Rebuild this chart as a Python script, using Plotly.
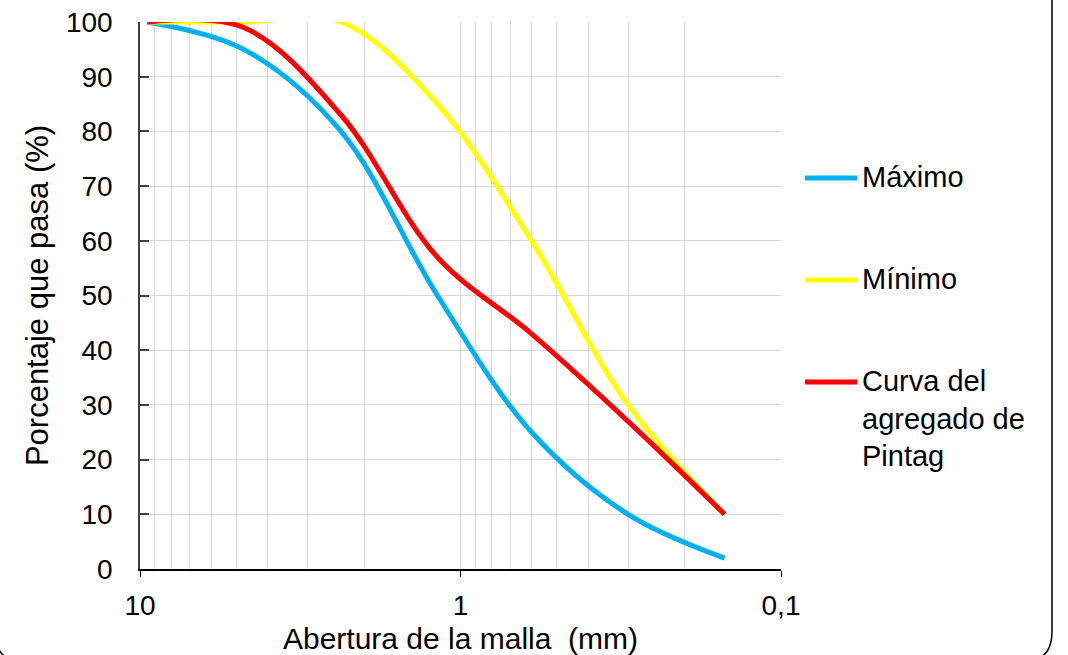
import plotly.graph_objects as go

# Sieve openings (mm) and cumulative percent passing
aberturas = [9.5, 4.75, 2.36, 1.18, 0.6, 0.3, 0.15]
maximo = [100, 95, 80, 50, 25, 10, 2]
minimo = [100, 100, 100, 85, 60, 30, 10]
pintag = [100, 99, 83, 57, 43, 27, 10]

series_names = ["Máximo", "Mínimo", "Curva del<br>agregado de<br>Pintag"]
series_values = [maximo, minimo, pintag]
series_colors = ["#00B0F0", "#FFFF00", "#FF0000"]

x_tick_vals = [10, 1, 0.1]
x_tick_text = ["10", "1", "0,1"]
x_minor_vals = [m * d for d in (0.1, 1) for m in range(2, 10)]

FONT = "Liberation Sans, Arial, sans-serif"
W, H = 1068, 655
L, R, T, B = 140, 287, 22, 86
PW, PH = W - L - R, H - T - B


def px(x):
    return (x - L) / PW


def py(y):
    return (H - B - y) / PH


fig = go.Figure()
for name, vals, col in zip(series_names, series_values, series_colors):
    fig.add_trace(go.Scatter(
        x=aberturas, y=vals, mode="lines", name=name.replace("<br>", " "),
        line=dict(color=col, width=5, shape="spline", smoothing=1.0),
        showlegend=False,
    ))

# Legend drawn beside the plot: a short line sample plus its label
legend_rows = [178, 280, 382]
for (name, col, yrow) in zip(series_names, series_colors, legend_rows):
    fig.add_shape(type="line", xref="paper", yref="paper",
                  x0=px(805), x1=px(857), y0=py(yrow), y1=py(yrow),
                  line=dict(color=col, width=5))
    fig.add_annotation(xref="paper", yref="paper", x=px(860), y=py(yrow - 19),
                       xanchor="left", yanchor="top", showarrow=False, align="left",
                       text=name, font=dict(family=FONT, size=29, color="black"))

# Rounded outer frame
r = 30
x_left, x_right, y_bot, y_top = -5, 1052, 662, -10
path = (f"M {px(x_right)},{py(y_top)} L {px(x_right)},{py(y_bot - r)} "
        f"Q {px(x_right)},{py(y_bot)} {px(x_right - r)},{py(y_bot)} "
        f"L {px(x_left + r)},{py(y_bot)} "
        f"Q {px(x_left)},{py(y_bot)} {px(x_left)},{py(y_bot - r)} "
        f"L {px(x_left)},{py(y_top)}")
fig.add_shape(type="path", xref="paper", yref="paper", path=path,
              line=dict(color="black", width=1.5))

fig.update_layout(
    width=W, height=H,
    margin=dict(l=L, r=R, t=T, b=B, autoexpand=False),
    paper_bgcolor="white", plot_bgcolor="white",
    font=dict(family=FONT, color="black"),
    showlegend=False,
)
fig.update_xaxes(
    automargin=False,
    type="log", range=[1, -1],
    tickmode="array", tickvals=x_tick_vals, ticktext=x_tick_text,
    ticks="outside", ticklen=6, tickcolor="black", tickwidth=1,
    showline=True, linecolor="black", linewidth=1.5,
    showgrid=True, gridcolor="#d9d9d9", gridwidth=1,
    minor=dict(tickmode="array", tickvals=x_minor_vals, showgrid=True,
               gridcolor="#d9d9d9", gridwidth=1, ticks=""),
    tickfont=dict(family=FONT, size=28),
    ticklabelstandoff=5,
    title=dict(text="Abertura de la malla  (mm)", font=dict(family=FONT, size=30),
               standoff=14),
    zeroline=False,
)
fig.update_yaxes(
    automargin=False,
    range=[0, 100], tick0=0, dtick=10,
    ticks="inside", ticklen=9, tickcolor="#404040", tickwidth=1.5,
    showline=True, linecolor="#404040", linewidth=1.5,
    showgrid=True, gridcolor="#d9d9d9", gridwidth=1,
    tickfont=dict(family=FONT, size=28),
    ticklabelstandoff=20,
    title=dict(text="Porcentaje que pasa (%)", font=dict(family=FONT, size=31),
               standoff=8),
    zeroline=False,
)

fig.write_html("out.html")
